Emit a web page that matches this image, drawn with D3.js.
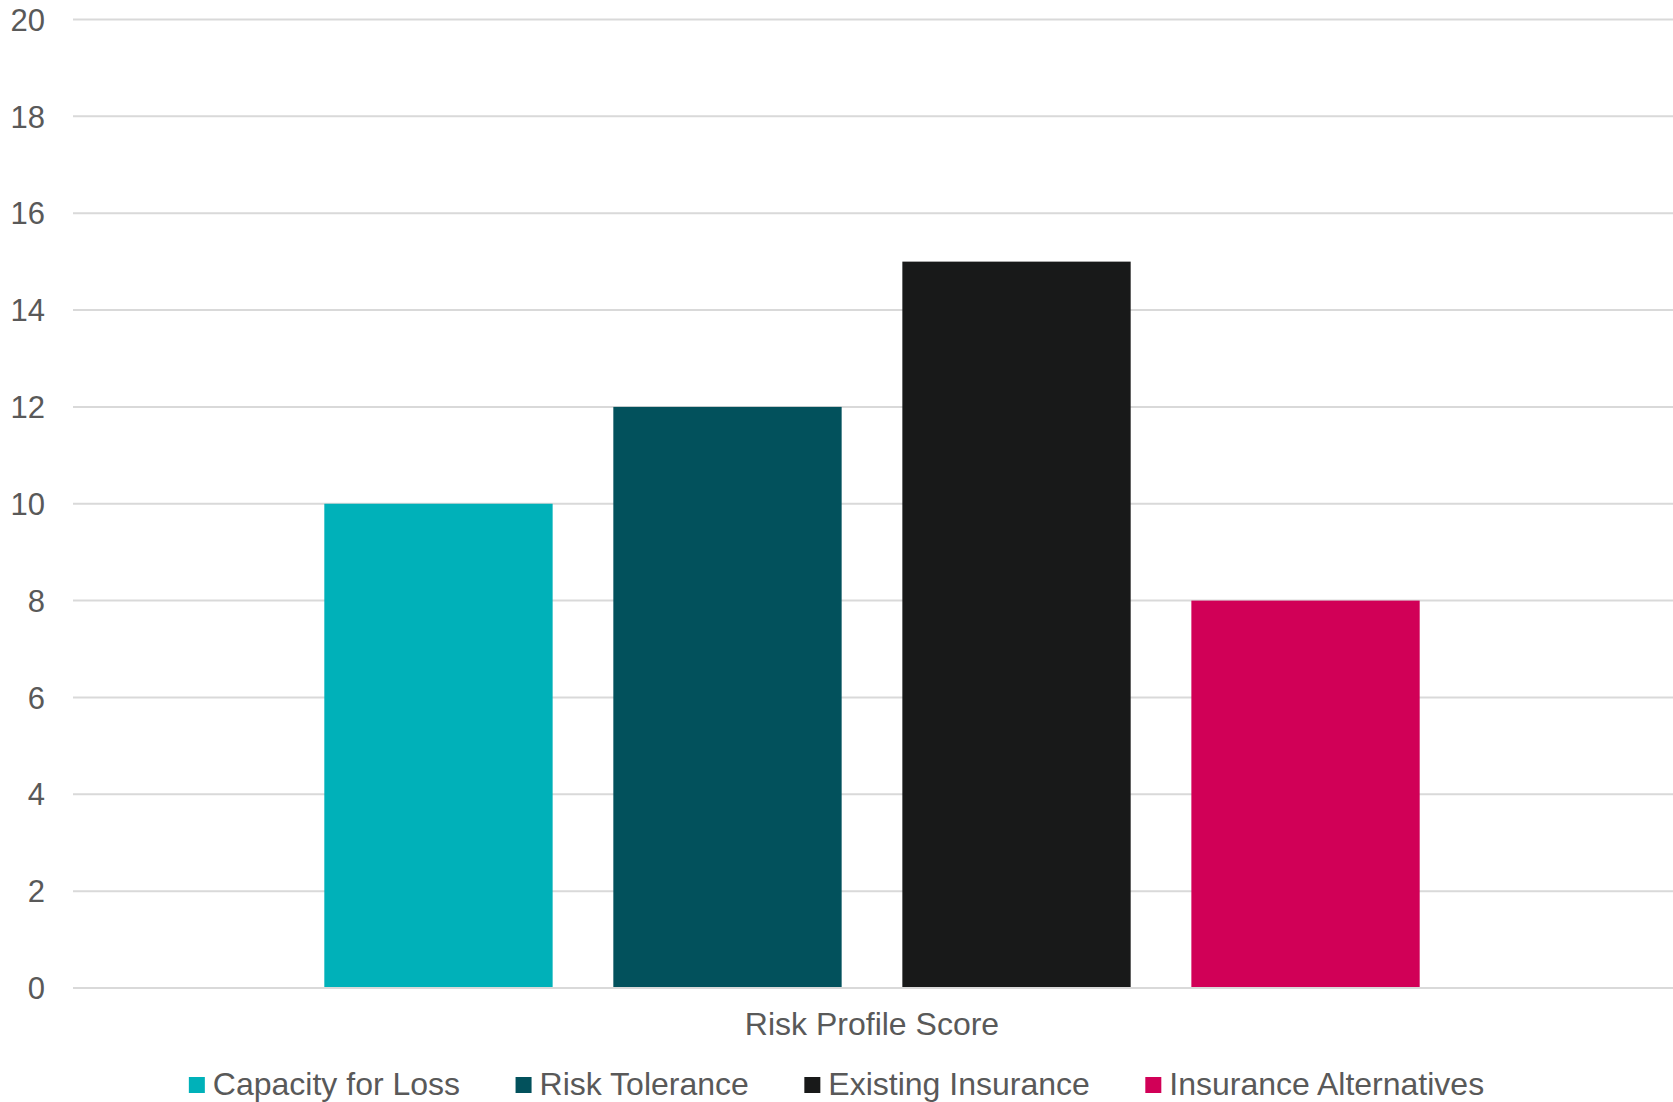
<!DOCTYPE html>
<html>
<head>
<meta charset="utf-8">
<script src="https://cdn.jsdelivr.net/npm/d3@7"></script>
<style>
  html, body { margin: 0; padding: 0; background: #fff; }
  svg { display: block; font-family: "Liberation Sans", Arial, sans-serif; }
</style>
</head>
<body>
<div id="chart"></div>
<script>
  // data
  const categories = ["Risk Profile Score"];
  const seriesNames = ["Capacity for Loss", "Risk Tolerance", "Existing Insurance", "Insurance Alternatives"];
  const seriesValues = [10, 12, 15, 8];
  const seriesColors = ["#00B1B9", "#02515C", "#181919", "#D10057"];
  const yTicks = [0, 2, 4, 6, 8, 10, 12, 14, 16, 18, 20];

  const width = 1673;
  const height = 1102;
  const margin = { top: 19.5, right: 0, bottom: 114, left: 73 };
  const TEXT_COLOR = "#595959";
  const GRID_COLOR = "#D9D9D9";

  const svg = d3.select("#chart")
    .append("svg")
    .attr("width", width)
    .attr("height", height);

  const y = d3.scaleLinear()
    .domain([0, 20])
    .range([height - margin.bottom, margin.top]);

  const x0 = d3.scaleBand()
    .domain(categories)
    .range([margin.left - 1, width - margin.right - 1])
    .paddingInner(0)
    .paddingOuter(0.192);

  const x1 = d3.scaleBand()
    .domain(seriesNames)
    .range([0, x0.bandwidth()])
    .paddingInner(0.21)
    .paddingOuter(0.105);

  // gridlines
  svg.append("g")
    .selectAll("line")
    .data(yTicks)
    .enter()
    .append("line")
    .attr("x1", margin.left)
    .attr("x2", width - margin.right)
    .attr("y1", (d) => y(d))
    .attr("y2", (d) => y(d))
    .attr("stroke", GRID_COLOR)
    .attr("stroke-width", 2);

  // y tick labels
  svg.append("g")
    .selectAll("text")
    .data(yTicks)
    .enter()
    .append("text")
    .attr("x", 45)
    .attr("y", (d) => y(d))
    .attr("dy", "0.36em")
    .attr("text-anchor", "end")
    .attr("fill", TEXT_COLOR)
    .style("font-size", "31px")
    .text((d) => d);

  // bars
  const barData = seriesNames.map((name, i) => ({
    category: categories[0],
    name: name,
    value: seriesValues[i],
    color: seriesColors[i],
  }));

  svg.append("g")
    .selectAll("rect")
    .data(barData)
    .enter()
    .append("rect")
    .attr("x", (d) => x0(d.category) + x1(d.name))
    .attr("width", x1.bandwidth())
    .attr("y", (d) => y(d.value))
    .attr("height", (d) => y(0) - y(d.value) - 1)
    .attr("fill", (d) => d.color);

  // category label
  svg.append("g")
    .selectAll("text")
    .data(categories)
    .enter()
    .append("text")
    .attr("x", (d) => x0(d) + x0.bandwidth() / 2)
    .attr("y", 1035)
    .attr("text-anchor", "middle")
    .attr("fill", TEXT_COLOR)
    .style("font-size", "32px")
    .text((d) => d);

  // legend
  const legend = svg.append("g");
  const sq = 16;
  const gapText = 8;
  const gapItem = 55.5;
  let cursor = 0;
  seriesNames.forEach((name, i) => {
    const item = legend.append("g").attr("transform", `translate(${cursor},0)`);
    item.append("rect")
      .attr("x", 0)
      .attr("y", 1077)
      .attr("width", sq)
      .attr("height", sq)
      .attr("fill", seriesColors[i]);
    const t = item.append("text")
      .attr("x", sq + gapText)
      .attr("y", 1095)
      .attr("fill", TEXT_COLOR)
      .style("font-size", "32px")
      .text(name);
    cursor += sq + gapText + t.node().getComputedTextLength() + gapItem;
  });
  const legendWidth = cursor - gapItem;
  legend.attr("transform", `translate(${(width - legendWidth) / 2},0)`);
</script>
</body>
</html>
